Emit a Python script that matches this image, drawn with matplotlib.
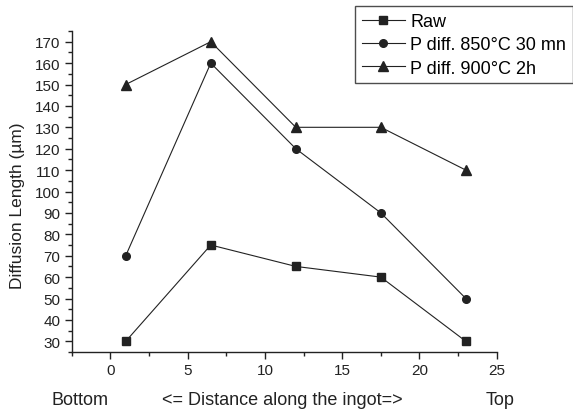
import matplotlib

matplotlib.use("Agg")
import matplotlib.pyplot as plt
from matplotlib.ticker import MultipleLocator

plt.rcParams["font.family"] = ["Liberation Sans", "DejaVu Sans"]

# data
distance = [1, 6.5, 12, 17.5, 23]
raw = [30, 75, 65, 60, 30]
p_850 = [70, 160, 120, 90, 50]
p_900 = [150, 170, 130, 130, 110]
series_labels = ["Raw", "P diff. 850\u00b0C 30 mn", "P diff. 900\u00b0C 2h"]
series_markers = ["s", "o", "^"]

fig = plt.figure(figsize=(5.73, 4.14), dpi=100)
ax = fig.add_axes([0.125, 0.1473, 0.742, 0.7754])

color = "#222222"
for values, label, marker in zip([raw, p_850, p_900], series_labels, series_markers):
    ax.plot(distance, values, color=color, lw=0.8, marker=marker,
            markersize=5.5 if marker != "^" else 6.5, label=label)

ax.set_xlim(-2.5, 25)
ax.set_ylim(25, 175)
ax.xaxis.set_major_locator(MultipleLocator(5))
ax.xaxis.set_minor_locator(MultipleLocator(2.5))
ax.yaxis.set_major_locator(MultipleLocator(10))
ax.yaxis.set_minor_locator(MultipleLocator(5))
ax.set_yticks(range(30, 171, 10))
ax.spines["top"].set_visible(False)
ax.spines["right"].set_visible(False)
for side in ("left", "bottom"):
    ax.spines[side].set_linewidth(1.0)
    ax.spines[side].set_color(color)
ax.tick_params(which="major", direction="out", length=5, width=1.0, labelsize=11,
               colors=color, pad=3)
ax.tick_params(which="minor", direction="out", length=3, width=1.0, colors=color)

fig.text(0.031, 0.502, "Diffusion Length (\u00b5m)", rotation=90, ha="center",
         va="center", fontsize=12.5, color=color)
fig.text(0.09, 0.033, "Bottom", ha="left", va="center", fontsize=13, color=color)
fig.text(0.283, 0.033, "<= Distance along the ingot=>", ha="left", va="center",
         fontsize=13, color=color)
fig.text(0.848, 0.033, "Top", ha="left", va="center", fontsize=13, color=color)

leg = fig.legend(loc="upper left", bbox_to_anchor=(0.619, 0.982), fontsize=13,
                 frameon=True, fancybox=False, edgecolor=color, handlelength=2.4,
                 handletextpad=0.3, labelspacing=0.34, borderpad=0.38,
                 borderaxespad=0)
leg.get_frame().set_linewidth(1.0)

fig.savefig("out.png", dpi=100)
